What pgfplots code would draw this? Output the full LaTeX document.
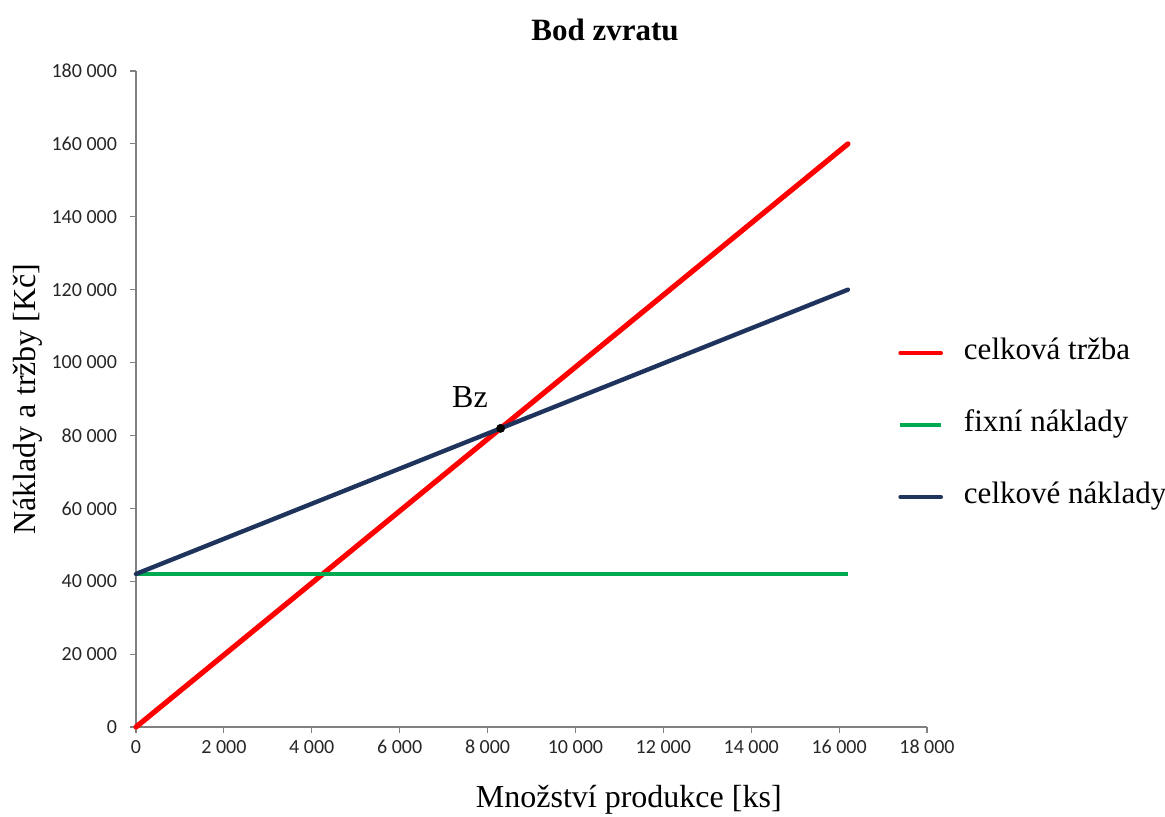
\documentclass[border=0pt]{standalone}
\usepackage{pgfplots}
\pgfplotsset{compat=1.18}
\usepackage{fontspec}
\setmainfont{Liberation Serif}
\newfontfamily\carlito{Carlito}
\definecolor{cred}{RGB}{255,0,0}
\definecolor{cgreen}{RGB}{0,170,80}
\definecolor{cblue}{RGB}{31,52,92}
\begin{document}
\begin{tikzpicture}
\begin{axis}[
  scale only axis,
  width=395.5pt, height=328pt,
  xmin=0, xmax=18000, ymin=0, ymax=180000,
  scaled ticks=false,
  xtick={0,2000,4000,6000,8000,10000,12000,14000,16000,18000},
  xticklabels={0,2 000,4 000,6 000,8 000,10 000,12 000,14 000,16 000,18 000},
  ytick={0,20000,40000,60000,80000,100000,120000,140000,160000,180000},
  yticklabels={0,20 000,40 000,60 000,80 000,100 000,120 000,140 000,160 000,180 000},
  axis lines*=left,
  axis line style={gray, line width=0.6pt},
  tick style={gray, line width=0.6pt},
  tick align=outside,
  major tick length=3pt,
  tick label style={font=\carlito\fontsize{10}{12}\selectfont, text=black!85},
  yticklabel style={xshift=-3pt},
  clip=false,
  every axis y label/.style={at={(axis description cs:-0.1365,0.5)}, rotate=90, anchor=center, font=\fontsize{16}{19}\selectfont},
  every axis x label/.style={at={(axis description cs:0.623,-0.1113)}, anchor=center, font=\fontsize{16}{19}\selectfont},
  ylabel={Náklady a tržby [Kč]},
  xlabel={Množství produkce [ks]},
  title={Bod zvratu},
  every axis title/.style={at={(axis description cs:0.593,1.0625)}, anchor=center, font=\bfseries\fontsize{15.5}{18}\selectfont},
  legend style={at={(axis description cs:0.9633,0.4604)}, anchor=west, draw=none, fill=none, inner sep=0pt,
    font=\fontsize{15.5}{18}\selectfont,
    nodes={inner sep=0pt, text height=11pt, text depth=4pt},
    row sep=21pt,
    /tikz/every odd column/.append style={column sep=10.5pt}},
  legend cell align=left,
  legend image code/.code={\draw[#1, line width=1.8pt] (0pt,0pt) -- (20.5pt,0pt);},
]
\addplot[cred, line width=2.6pt, line cap=round] coordinates {(0,0) (16200,160000)};
\addlegendentry{celková tržba}
\addplot[cgreen, line width=2.2pt] coordinates {(0,42000) (16200,42000)};
\addlegendentry{fixní náklady}
\addplot[cblue, line width=2.2pt, line cap=round] coordinates {(0,42000) (16200,120000)};
\addlegendentry{celkové náklady}
\addplot[only marks, mark=*, mark size=2pt, black, forget plot] coordinates {(8297.6,81951)};
\node[font=\fontsize{16}{19}\selectfont] at (axis cs:7600,90500) {Bz};
\end{axis}
\pgfresetboundingbox
\path (-68pt,-44.5pt) rectangle (514.5pt,363.5pt);
\end{tikzpicture}
\end{document}
